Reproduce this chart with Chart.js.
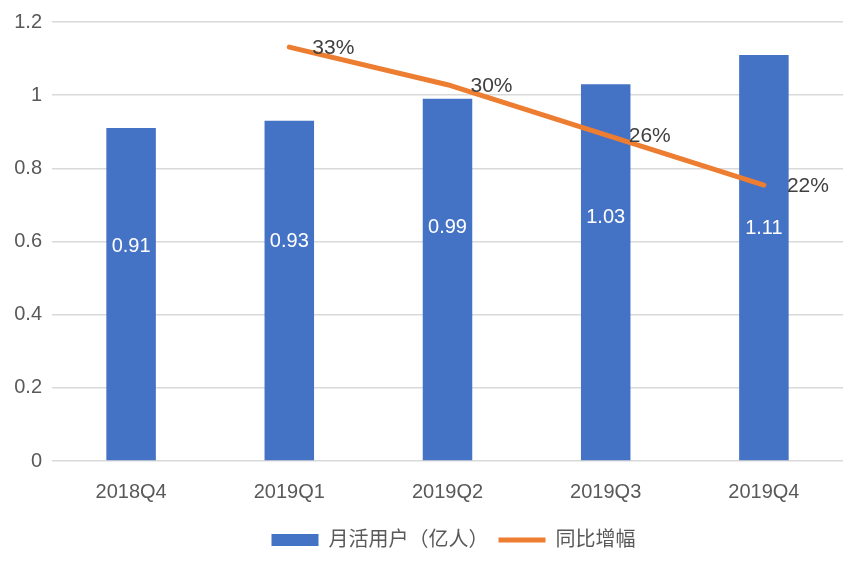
<!DOCTYPE html>
<html>
<head>
<meta charset="utf-8">
<script src="https://cdn.jsdelivr.net/npm/chart.js@4"></script>
<style>
  html, body { margin: 0; padding: 0; background: #fff; }
  #chart { display: block; }
</style>
</head>
<body>
<canvas id="chart" width="845" height="566"></canvas>
<script>
// 数据
const categories = ["2018Q4", "2019Q1", "2019Q2", "2019Q3", "2019Q4"];
const users = [0.91, 0.93, 0.99, 1.03, 1.11];
const growth = [null, 33, 30, 26, 22];
const yTicks = [0, 0.2, 0.4, 0.6, 0.8, 1, 1.2];

const FONT = '"Liberation Sans", Arial, "Noto Sans CJK SC", sans-serif';
const BLUE = "#4472C4";
const ORANGE = "#ED7D31";

// 数值标签
const labelPlugin = {
  id: "valueLabels",
  afterDatasetsDraw(chart) {
    const ctx = chart.ctx;
    const y = chart.scales.y;
    const barMeta = chart.getDatasetMeta(0);
    const lineMeta = chart.getDatasetMeta(1);
    ctx.save();
    ctx.textBaseline = "middle";

    ctx.font = "20px " + FONT;
    ctx.fillStyle = "#ffffff";
    ctx.textAlign = "center";
    barMeta.data.forEach((bar, i) => {
      let ly = y.getPixelForValue(users[i] * 0.645);
      // 避开折线
      if (growth[i] !== null) ly = Math.max(ly, lineMeta.data[i].y + 43);
      ctx.fillText(users[i].toFixed(2), bar.x, ly);
    });

    ctx.font = "21px " + FONT;
    ctx.fillStyle = "#404040";
    ctx.textAlign = "left";
    lineMeta.data.forEach((pt, i) => {
      if (growth[i] === null) return;
      ctx.fillText(growth[i] + "%", pt.x + 23, pt.y + 1);
    });
    ctx.restore();
  },
};

// 图例居中于绘图区，并稍微下移
const legendShift = {
  id: "legendShift",
  afterLayout(chart) {
    const lg = chart.legend;
    const area = chart.chartArea;
    const dx = (area.left + area.right) / 2 - (lg.left + lg.right) / 2 + 6;
    lg.left += dx;
    lg.right += dx;
    lg.top += 5;
    lg.bottom += 5;
  },
};

new Chart(document.getElementById("chart"), {
  data: {
    labels: categories,
    datasets: [
      {
        type: "bar",
        label: "月活用户（亿人）",
        data: users,
        backgroundColor: BLUE,
        borderWidth: 0,
        barPercentage: 1,
        categoryPercentage: 0.313,
        pointStyle: "rect",
        order: 1,
      },
      {
        type: "line",
        label: "同比增幅",
        data: growth,
        yAxisID: "y1",
        borderColor: ORANGE,
        backgroundColor: ORANGE,
        borderWidth: 5,
        borderCapStyle: "round",
        borderJoinStyle: "round",
        pointRadius: 0,
        pointStyle: "line",
        tension: 0,
        order: 0,
      },
    ],
  },
  options: {
    responsive: false,
    animation: false,
    layout: { padding: { top: 12, right: 2, bottom: 11, left: 0 } },
    scales: {
      x: {
        grid: { display: false },
        border: { display: false },
        ticks: {
          color: "#595959",
          font: { family: FONT, size: 20 },
          padding: 11,
        },
      },
      y: {
        min: 0,
        max: 1.2,
        afterBuildTicks: (s) => {
          s.ticks = yTicks.map((v) => ({ value: v }));
        },
        afterFit: (s) => {
          s.width = 52;
        },
        grid: { color: "#d9d9d9", lineWidth: 1.5, drawTicks: false },
        border: { display: false },
        ticks: {
          color: "#595959",
          font: { family: FONT, size: 20 },
          padding: 10,
          callback: (v) => String(Math.round(v * 10) / 10),
        },
      },
      y1: {
        display: false,
        min: 0,
        max: 35,
      },
    },
    plugins: {
      tooltip: { enabled: false },
      legend: {
        position: "bottom",
        labels: {
          usePointStyle: true,
          pointStyleWidth: 47,
          boxHeight: 12,
          padding: 10,
          color: "#595959",
          font: { family: FONT, size: 20 },
          sort: (a, b) => a.datasetIndex - b.datasetIndex,
        },
      },
    },
  },
  plugins: [labelPlugin, legendShift],
});
</script>
</body>
</html>
